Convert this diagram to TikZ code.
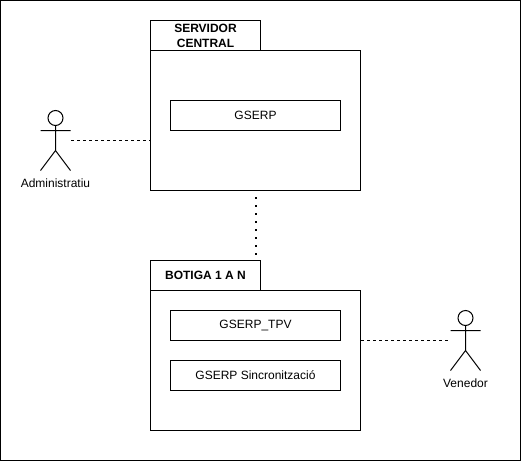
\documentclass[tikz,border=0pt]{standalone}
\usepackage{fontspec}
\setmainfont{Liberation Sans}
\begin{document}
\begin{tikzpicture}[x=1pt,y=-1pt,every node/.style={font=\fontsize{12}{15}\selectfont},line width=1pt,
  box/.style={draw,align=center,inner sep=0pt,minimum width=#1},
  tab/.style={box=110pt,minimum height=30pt,font=\fontsize{12}{15}\selectfont\bfseries},
  pack/.style={box=210pt,minimum height=140pt},
  comp/.style={box=170pt,minimum height=30pt},
  actorbox/.style={inner sep=0pt,minimum width=30pt,minimum height=60pt},
  actor/.pic={
    \node[actorbox] (-box) at (0,0) {};
    \draw (0,-22.5) circle[radius=7.5];
    \draw (0,-15) -- (0,10) (-15,-10) -- (15,-10) (-15,30) -- (0,10) -- (15,30);
  }]
\useasboundingbox (0,0) rectangle (521,461);
\node[box=520pt,minimum height=460pt] (frame) at (260.5,230.5) {};
\node[pack] (central) at (255.5,120.5) {};
\node[tab] (centraltab) at (205.5,35.5) {SERVIDOR\\ CENTRAL};
\node[comp] (gserp) at (255.5,115.5) {GSERP};
\node[pack] (botiga) at (255.5,360.5) {};
\node[tab] (botigatab) at (205.5,275.5) {BOTIGA 1 A N};
\node[comp] (tpv) at (255.5,325.5) {GSERP\_TPV};
\node[comp] (sinc) at (255.5,375.5) {GSERP Sincronització};
\pic (admin) at (55.5,140.5) {actor};
\node (adminlabel) at (55.5,183.5) {Administratiu};
\pic (venedor) at (465.5,340.5) {actor};
\node (venedorlabel) at (465.5,383.5) {Venedor};
\draw[dashed] (admin-box.east) -- (admin-box.east -| central.west);
\draw[dashed,shorten >=2pt] (venedor-box.west -| botiga.east) -- (venedor-box.west);
\draw[line width=2pt,dash pattern=on 2pt off 6pt,shorten <=6pt] (central.south) -- (central.south |- botigatab.north);
\end{tikzpicture}
\end{document}
